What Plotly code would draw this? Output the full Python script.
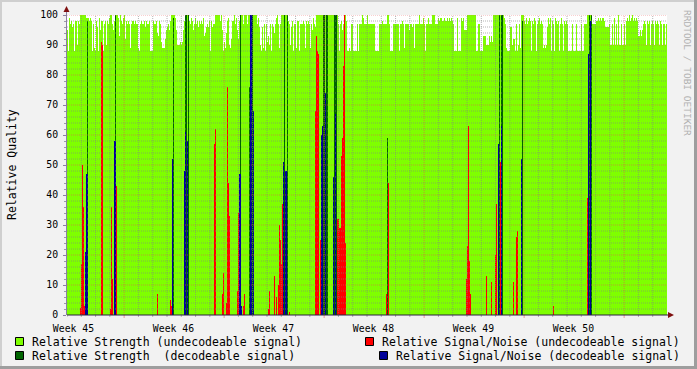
import plotly.graph_objects as go

# ---------------- data (one value per RRD step, 100 steps per week) ----------------
strength_undec = [
    95, 88, 99, 97, 98, 96, 97, 88, 98, 98,
    90, 98, 97, 100, 100, 100, 100, 100, 100, 99,
    99, 99, 98, 99, 98, 88, 97, 89, 88, 98,
    96, 88, 99, 95, 98, 98, 88, 97, 98, 90,
    98, 97, 99, 100, 100, 97, 95, 98, 100, 100,
    100, 99, 93, 100, 98, 97, 99, 100, 92, 98,
    97, 98, 97, 89, 97, 98, 98, 97, 98, 97,
    97, 89, 88, 97, 98, 97, 97, 98, 96, 98,
    97, 97, 98, 88, 88, 88, 98, 97, 97, 98,
    94, 93, 98, 97, 91, 89, 89, 89, 92, 95,
    96, 97, 95, 98, 100, 100, 100, 100, 99, 95,
    90, 90, 90, 91, 90, 91, 95, 98, 100, 100,
    100, 100, 98, 97, 99, 98, 95, 97, 99, 97,
    98, 96, 98, 97, 98, 97, 99, 93, 94, 96,
    97, 96, 98, 88, 98, 96, 97, 97, 100, 100,
    100, 100, 100, 98, 100, 95, 88, 91, 89, 94,
    98, 99, 90, 89, 92, 98, 98, 100, 97, 99,
    95, 92, 98, 100, 100, 100, 97, 100, 100, 100,
    97, 100, 100, 100, 100, 100, 100, 100, 100, 100,
    97, 99, 96, 90, 88, 96, 89, 97, 88, 97,
    91, 93, 90, 97, 88, 97, 96, 94, 97, 99,
    100, 97, 89, 97, 100, 100, 100, 100, 100, 100,
    100, 98, 97, 90, 96, 98, 88, 97, 97, 89,
    98, 98, 88, 97, 97, 97, 98, 97, 89, 98,
    97, 98, 97, 89, 97, 95, 99, 97, 96, 100,
    100, 100, 100, 100, 100, 100, 100, 100, 100, 100,
    100, 100, 100, 100, 100, 100, 100, 100, 100, 100,
    100, 97, 88, 97, 98, 95, 97, 100, 100, 98,
    88, 88, 89, 88, 97, 97, 88, 88, 88, 88,
    97, 88, 97, 97, 97, 100, 99, 97, 97, 97,
    100, 97, 97, 97, 97, 97, 97, 97, 88, 88,
    88, 88, 97, 97, 97, 98, 97, 97, 97, 97,
    100, 100, 97, 88, 88, 88, 97, 97, 97, 97,
    97, 97, 88, 97, 97, 98, 97, 89, 97, 97,
    97, 97, 95, 97, 97, 96, 97, 89, 97, 97,
    97, 97, 100, 97, 97, 97, 99, 97, 88, 97,
    97, 99, 97, 97, 97, 100, 100, 100, 97, 97,
    97, 99, 98, 99, 99, 98, 98, 99, 98, 98,
    99, 98, 99, 98, 99, 98, 97, 88, 88, 88,
    99, 88, 88, 88, 99, 98, 99, 95, 95, 95,
    100, 100, 100, 100, 100, 100, 100, 100, 100, 88,
    88, 97, 97, 88, 88, 88, 93, 93, 93, 90,
    90, 90, 93, 91, 93, 91, 100, 100, 100, 100,
    100, 100, 100, 100, 100, 100, 100, 99, 97, 89,
    88, 88, 88, 96, 96, 90, 92, 92, 88, 97,
    88, 90, 97, 89, 100, 100, 100, 98, 97, 99,
    97, 98, 99, 98, 88, 98, 97, 99, 98, 88,
    97, 98, 99, 97, 98, 97, 89, 90, 89, 90,
    96, 99, 97, 99, 88, 98, 97, 88, 99, 98,
    97, 98, 88, 97, 99, 97, 88, 98, 97, 98,
    97, 88, 88, 88, 88, 97, 88, 88, 88, 97,
    88, 88, 88, 88, 97, 88, 88, 97, 97, 97,
    100, 100, 100, 100, 100, 97, 97, 97, 97, 98,
    98, 99, 98, 99, 98, 99, 99, 98, 96, 96,
    96, 96, 97, 90, 90, 97, 90, 99, 90, 97,
    90, 100, 90, 90, 97, 90, 90, 97, 90, 98,
    99, 98, 100, 98, 99, 100, 98, 99, 98, 99,
    98, 93, 93, 95, 93, 95, 97, 98, 97, 90,
    98, 97, 98, 90, 97, 98, 97, 90, 98, 97,
    98, 97, 90, 98, 97, 90, 97, 97, 90, 97,
]

snr_undec_step = [13, 14, 15, 16, 17, 34, 35, 43, 44, 45, 49, 90, 103, 104, 147, 148,
                  155, 156, 159, 160, 161, 162, 170, 171, 176, 177, 201, 202, 207, 209,
                  211, 212, 213, 214, 215, 222, 248, 249, 250, 251, 253, 270, 271, 272,
                  273, 274, 275, 276, 277, 278, 319, 321, 399, 400, 401, 402, 403, 419,
                  424, 428, 429, 433, 446, 449, 450, 486, 520]
snr_undec_val = [2.5, 17, 50, 36, 3, 91, 90, 2, 36, 12, 43, 7, 5, 3, 57, 62,
                 7, 14, 4, 76, 44, 33, 8, 34, 3, 7, 2, 8, 13, 6,
                 10, 30, 25, 17, 37, 1, 68, 93, 88, 87, 25, 32, 32, 29,
                 29, 53, 59, 83, 100, 24, 7, 44, 12, 23, 63, 18, 7, 13,
                 11, 20, 37, 51, 11, 26, 28, 3, 39]

strength_dec_step = [20, 48, 106, 118, 119, 121, 173, 182, 185, 217, 220, 256, 257, 259,
                     260, 267, 268, 269, 320, 432, 434, 435, 455, 522, 524]
strength_dec_val = [98, 100, 99, 100, 100, 100, 100, 76, 100, 100, 100, 100, 100, 100,
                    100, 100, 100, 100, 59, 100, 100, 100, 98, 100, 100]

snr_dec_step = [18, 19, 20, 47, 48, 105, 117, 118, 120, 172, 173, 174, 183, 184, 186,
                216, 218, 219, 254, 255, 258, 266, 268, 431, 434, 454, 521, 523]
snr_dec_val = [21, 47, 47, 58, 58, 52, 48, 61, 58, 47, 47, 3, 100, 100, 68,
               51, 48, 48, 60, 63, 74, 46, 67, 57, 63, 52, 87, 98]

week_labels = ["Week 45", "Week 46", "Week 47", "Week 48", "Week 49", "Week 50"]
y_ticks = [0, 10, 20, 30, 40, 50, 60, 70, 80, 90, 100]

# ---------------- layout constants ----------------
W, H = 697, 369
ML, MR, MT, MB = 67, 30, 15, 54
PW, PH = W - ML - MR, H - MT - MB
STEPS_PER_WEEK = 100
STEPS_PER_DAY = STEPS_PER_WEEK / 7
FIRST_LABEL = 6          # step of first week label
FIRST_MAJOR = 4          # first major grid line, in days from start
FONT = "DejaVu Sans Mono"

C_LG, C_RED, C_DG, C_BLUE = "#7FFF00", "#FF0000", "#006400", "#000099"


def px(x):
    return (x - ML) / PW


def py(y):
    return (H - MB - y) / PH


fig = go.Figure()
fig.add_bar(x=list(range(len(strength_undec))), y=strength_undec, width=1,
            marker=dict(color=C_LG, line=dict(width=0)))
fig.add_bar(x=snr_undec_step, y=snr_undec_val, width=1,
            marker=dict(color=C_RED, line=dict(width=0)))
fig.add_bar(x=strength_dec_step, y=strength_dec_val, width=1,
            marker=dict(color=C_DG, line=dict(width=0)))
fig.add_bar(x=snr_dec_step, y=snr_dec_val, width=1,
            marker=dict(color=C_BLUE, line=dict(width=0)))

n = len(strength_undec)
x0 = -0.5
shapes = []
GRID = "rgba(130,130,130,0.6)"
MGRID = "rgba(230,80,80,0.55)"
# horizontal grid
for v in range(2, 101, 2):
    major = v % 10 == 0
    shapes.append(dict(type="line", xref="x", yref="y", x0=x0, x1=x0 + n + 2, y0=v, y1=v,
                       line=dict(color=MGRID if major else GRID, width=1, dash="1px,1px"),
                       layer="above"))
# vertical grid + ticks
k = 0
while x0 + k * STEPS_PER_DAY < x0 + n:
    xv = x0 + k * STEPS_PER_DAY
    major = (k - FIRST_MAJOR) % 7 == 0
    if k > 0:
        shapes.append(dict(type="line", xref="x", yref="y", x0=xv, x1=xv, y0=0, y1=100,
                           line=dict(color=MGRID if major else GRID, width=1, dash="1px,1px"),
                           layer="above"))
    shapes.append(dict(type="line", xref="x", yref="paper", x0=xv, x1=xv, y0=0,
                       y1=-(3 if major else 2) / PH,
                       line=dict(color=MGRID if major else GRID, width=1), layer="above"))
    k += 1

# axis lines
shapes.append(dict(type="line", xref="paper", yref="paper", x0=px(67), x1=px(670), y0=0, y1=0,
                   line=dict(color="#2a2040", width=1), layer="above"))
shapes.append(dict(type="line", xref="paper", yref="paper", x0=px(66.5), x1=px(66.5), y0=0, y1=py(10),
                   line=dict(color="#8a80a0", width=1), layer="above"))
# arrows
shapes.append(dict(type="path", xref="paper", yref="paper",
                   path=f"M {px(66.5)},{py(6)} L {px(63.5)},{py(12)} L {px(69.5)},{py(12)} Z",
                   fillcolor="#7F1010", line=dict(width=0), layer="above"))
shapes.append(dict(type="path", xref="paper", yref="paper",
                   path=f"M {px(674)},{py(315)} L {px(668)},{py(312)} L {px(668)},{py(318)} Z",
                   fillcolor="#7F1010", line=dict(width=0), layer="above"))
# canvas bevel border
shapes += [
    dict(type="line", xref="paper", yref="paper", x0=px(0), x1=px(W), y0=py(1), y1=py(1),
         line=dict(color="#CFCFCF", width=2)),
    dict(type="line", xref="paper", yref="paper", x0=px(1), x1=px(1), y0=py(0), y1=py(H),
         line=dict(color="#CFCFCF", width=2)),
    dict(type="line", xref="paper", yref="paper", x0=px(0), x1=px(W), y0=py(H - 1.5), y1=py(H - 1.5),
         line=dict(color="#9E9E9E", width=3)),
    dict(type="line", xref="paper", yref="paper", x0=px(W - 1.5), x1=px(W - 1.5), y0=py(0), y1=py(H),
         line=dict(color="#9E9E9E", width=3)),
]

# legend
legend_items = [
    ("Relative Strength (undecodeable signal)", C_LG, 15, 337, 30),
    ("Relative Signal/Noise (undecodeable signal)", C_RED, 365, 337, 380),
    ("Relative Strength \u00a0(decodeable signal)", C_DG, 15, 351, 30),
    ("Relative Signal/Noise (decodeable signal)", C_BLUE, 379, 351, 394),
]
annotations = []
for text, col, sx, sy, tx in legend_items:
    shapes.append(dict(type="rect", xref="paper", yref="paper",
                       x0=px(sx + 0.5), x1=px(sx + 8.5), y0=py(sy + 0.5), y1=py(sy + 8.5),
                       fillcolor=col, line=dict(color="black", width=1), layer="above"))
    annotations.append(dict(text=text, xref="paper", yref="paper", x=px(tx), y=py(sy + 4.5),
                            xanchor="left", yanchor="middle", showarrow=False,
                            font=dict(family=FONT, size=11.5, color="black")))

annotations.append(dict(text="Relative Quality", xref="paper", yref="paper", x=px(12), y=py(165),
                        textangle=-90, xanchor="center", yanchor="middle", showarrow=False,
                        font=dict(family=FONT, size=11.5, color="black")))
annotations.append(dict(text="RRDTOOL / TOBI OETIKER", xref="paper", yref="paper", x=px(688), y=py(73),
                        textangle=90, xanchor="center", yanchor="middle", showarrow=False,
                        font=dict(family=FONT, size=9.5, color="#B0B0B0")))

fig.update_layout(
    width=W, height=H, margin=dict(l=ML, r=MR, t=MT, b=MB, pad=0, autoexpand=False),
    paper_bgcolor="#F2F2F2", plot_bgcolor="white",
    barmode="overlay", bargap=0, showlegend=False,
    shapes=shapes, annotations=annotations,
    font=dict(family=FONT, size=10, color="black"),
    xaxis=dict(range=[x0, x0 + n], showgrid=False, zeroline=False, showline=False,
               tickmode="array", automargin=False,
               tickvals=[FIRST_LABEL + i * STEPS_PER_WEEK for i in range(len(week_labels))],
               ticktext=week_labels, ticks="outside", ticklen=4, tickcolor="rgba(0,0,0,0)",
               tickfont=dict(size=9.8), fixedrange=True),
    yaxis=dict(range=[0, 100], showgrid=False, zeroline=False, showline=False,
               tickmode="array", tickvals=y_ticks, ticks="outside", ticklen=3, automargin=False,
               tickcolor="#8a80a0", tickfont=dict(size=9.8), ticklabelstandoff=3,
               minor=dict(dtick=2, ticks="outside", ticklen=2, tickcolor="#9a9aaa", showgrid=False),
               fixedrange=True),
)

fig.write_html("out.html", config={"displayModeBar": False},
               post_script="document.body.style.margin='0';document.body.style.overflow='hidden';")
